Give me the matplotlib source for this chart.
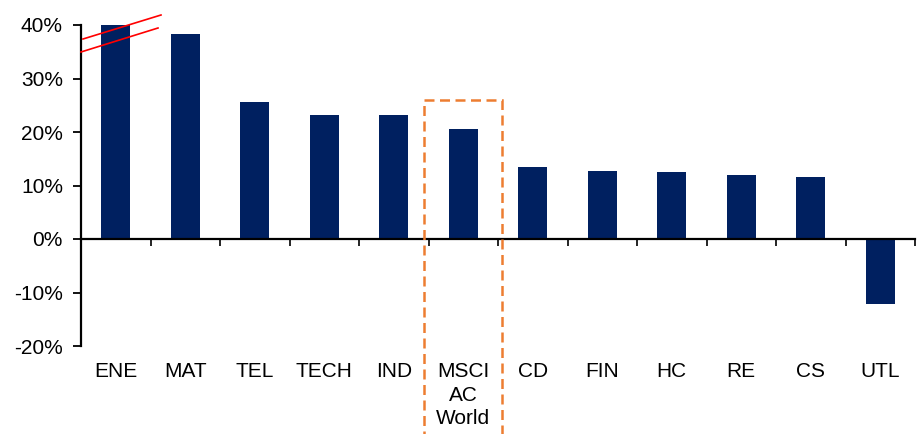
import matplotlib
matplotlib.use("Agg")
import matplotlib.pyplot as plt
from matplotlib.patches import Rectangle
from matplotlib.lines import Line2D
import matplotlib.transforms as mtrans

categories = ["ENE", "MAT", "TEL", "TECH", "IND", "MSCI\nAC\nWorld", "CD", "FIN", "HC", "RE", "CS", "UTL"]
values = [40.0, 38.3, 25.7, 23.1, 23.1, 20.5, 13.4, 12.8, 12.5, 12.0, 11.6, -12.2]
yticks = [-20, -10, 0, 10, 20, 30, 40]
ytick_labels = ["-20%", "-10%", "0%", "10%", "20%", "30%", "40%"]

plt.rcParams['font.family'] = ['Liberation Sans', 'DejaVu Sans']

fig = plt.figure(figsize=(9.22, 4.34), dpi=100)
ax = fig.add_axes([81/922, 1-346/434, (915-81)/922, (346-25)/434])

x = list(range(len(categories)))
ax.bar(x, values, width=0.42, color="#002060", zorder=2)

ax.set_xlim(-0.5, len(categories) - 0.5)
ax.set_ylim(-20, 40)
ax.set_yticks(yticks)
ax.set_yticklabels(ytick_labels, fontsize=15)
ax.tick_params(axis='y', direction='out', length=6, width=1.3, pad=7)

ax.spines['top'].set_visible(False)
ax.spines['right'].set_visible(False)
ax.spines['left'].set_linewidth(1.6)
ax.spines['bottom'].set_position(('data', 0))
ax.spines['bottom'].set_linewidth(1.6)
ax.spines['bottom'].set_zorder(3)

ax.set_xticks([i + 0.5 for i in x[:-1]] + [-0.5 + len(categories)])
ax.set_xticklabels([])
ax.tick_params(axis='x', direction='out', length=5, width=1.2)

trans = mtrans.blended_transform_factory(ax.transData, ax.transAxes)
for i, c in enumerate(categories):
    ax.text(i, -0.05, c, transform=trans, ha='center', va='top', fontsize=15,
            linespacing=1.3)

# dashed box around MSCI AC World (figure pixel coords)
box = Rectangle((424/922, -20/434), (502-424)/922, (334+20)/434,
                transform=fig.transFigure, fill=False, edgecolor="#ED7D31",
                linestyle=(0, (4, 2.2)), linewidth=1.8, zorder=5)
fig.patches.append(box)

# axis break marks
for (x0, y0, x1, y1) in [(83, 39, 161, 15), (81, 52, 158, 28)]:
    fig.lines.append(Line2D([x0/922, x1/922], [1-y0/434, 1-y1/434],
                            transform=fig.transFigure, color="red", linewidth=1.2, zorder=6))

fig.savefig("out.png", dpi=100)
